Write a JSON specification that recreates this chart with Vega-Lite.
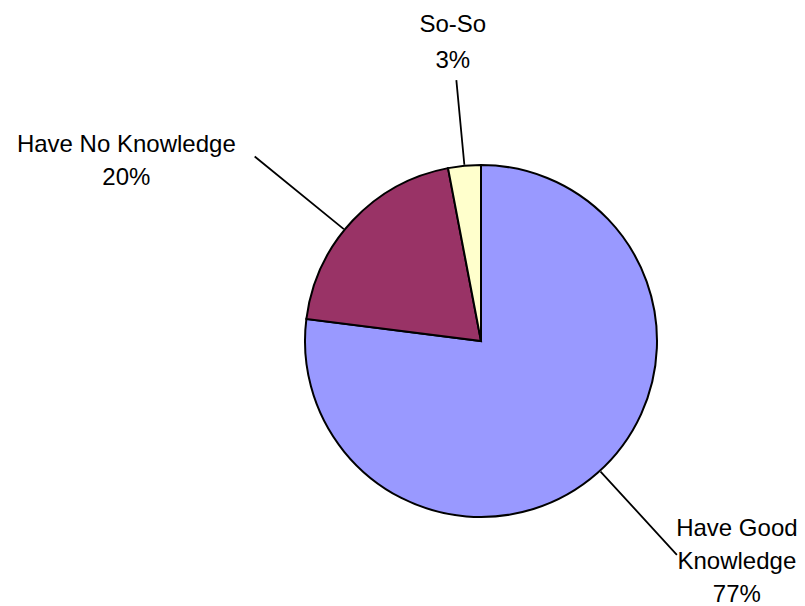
{
  "$schema": "https://vega.github.io/schema/vega-lite/v6.json",
  "width": 352,
  "height": 352,
  "autosize": "none",
  "padding": {"left": 305, "top": 165, "right": 148, "bottom": 89},
  "background": "white",
  "config": {"view": {"stroke": null}},
  "data": {
    "values": [
      {"category": "Have Good Knowledge", "value": 77, "label": "Have Good\nKnowledge\n77%"},
      {"category": "Have No Knowledge", "value": 20, "label": "Have No Knowledge\n20%"},
      {"category": "So-So", "value": 3, "label": "So-So\n3%"}
    ]
  },
  "encoding": {
    "theta": {"field": "value", "type": "quantitative", "stack": true},
    "order": {"field": "value", "type": "quantitative", "sort": "descending"}
  },
  "layer": [
    {
      "mark": {"type": "arc", "radius": 176, "stroke": "black", "strokeWidth": 2},
      "encoding": {
        "color": {
          "field": "category",
          "type": "nominal",
          "scale": {
            "domain": ["Have Good Knowledge", "Have No Knowledge", "So-So"],
            "range": ["#9999FF", "#993366", "#FFFFCC"]
          },
          "legend": null
        }
      }
    },
    {
      "mark": {"type": "arc", "radius": 262, "radius2": 177, "padAngle": 3.14, "fillOpacity": 0, "stroke": "black", "strokeWidth": 1.8},
      "encoding": {"strokeOpacity": {"condition": {"test": "datum.category === 'So-So'", "value": 1}, "value": 0}}
    },
    {
      "mark": {"type": "arc", "radius": 292, "radius2": 177, "thetaOffset": -0.07, "padAngle": 3.14, "fillOpacity": 0, "stroke": "black", "strokeWidth": 1.8},
      "encoding": {"strokeOpacity": {"condition": {"test": "datum.category === 'Have No Knowledge'", "value": 1}, "value": 0}}
    },
    {
      "transform": [
        {"stack": "value", "groupby": [], "sort": [{"field": "value", "order": "descending"}], "as": ["v0", "v1"]}
      ],
      "mark": {"type": "arc", "radius": 290, "radius2": 177, "thetaOffset": 2.0, "theta2Offset": -2.038, "padAngle": 3.14, "fillOpacity": 0, "stroke": "black", "strokeWidth": 1.8},
      "encoding": {
        "theta": {"field": "v0", "type": "quantitative"},
        "theta2": {"field": "v1"},
        "strokeOpacity": {"condition": {"test": "datum.category === 'Have Good Knowledge'", "value": 1}, "value": 0}
      }
    },
    {
      "mark": {"type": "text", "radius": 300, "dy": -17, "font": "Liberation Sans", "fontSize": 24, "lineHeight": 36, "align": "center", "baseline": "middle", "lineBreak": "\n", "color": "black"},
      "encoding": {"text": {"condition": {"test": "datum.category === 'So-So'", "field": "label"}, "value": ""}}
    },
    {
      "mark": {"type": "text", "radius": 396, "dx": -66, "dy": 75, "font": "Liberation Sans", "fontSize": 24, "lineHeight": 33, "align": "center", "baseline": "middle", "lineBreak": "\n", "color": "black"},
      "encoding": {"text": {"condition": {"test": "datum.category === 'Have No Knowledge'", "field": "label"}, "value": ""}}
    },
    {
      "mark": {"type": "text", "radius": 334, "dx": 35, "dy": -63, "font": "Liberation Sans", "fontSize": 24, "lineHeight": 33, "align": "center", "baseline": "middle", "lineBreak": "\n", "color": "black"},
      "encoding": {"text": {"condition": {"test": "datum.category === 'Have Good Knowledge'", "field": "label"}, "value": ""}}
    }
  ]
}
